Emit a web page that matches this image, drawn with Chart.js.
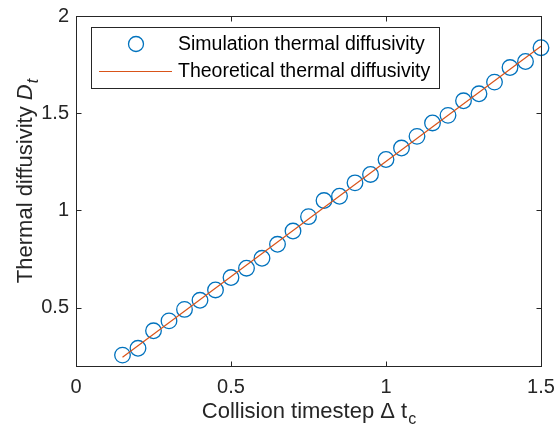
<!DOCTYPE html>
<html>
<head>
<meta charset="utf-8">
<script src="https://cdn.jsdelivr.net/npm/chart.js@4.4.1/dist/chart.umd.min.js"></script>
<style>
  html, body { margin: 0; padding: 0; background: #fff; }
</style>
</head>
<body>
<canvas id="chart" width="555" height="425"></canvas>
<script>
// collision timestep values (x) and simulated diffusivity (circles)
const timesteps = [0.15,0.20,0.25,0.30,0.35,0.40,0.45,0.50,0.55,0.60,0.65,0.70,0.75,0.80,
                   0.85,0.90,0.95,1.00,1.05,1.10,1.15,1.20,1.25,1.30,1.35,1.40,1.45,1.50];
const simDiffusivity = [0.256,0.291,0.381,0.432,0.491,0.538,0.591,0.655,0.703,0.754,0.826,0.894,0.968,1.051,
                        1.073,1.142,1.185,1.262,1.321,1.381,1.450,1.489,1.564,1.600,1.660,1.735,1.766,1.837];
// theoretical line end points
const theoryX = [0.15, 1.50];
const theoryY = [0.245, 1.845];
const xTicks = [0, 0.5, 1, 1.5];
const yTicks = [0.5, 1, 1.5, 2];

const AX = "#262626";
const FONT = "'Liberation Sans', Arial, Helvetica, sans-serif";

const frame = {
  id: "frame",
  afterDraw(chart) {
    const ctx = chart.ctx, a = chart.chartArea;
    const xs = chart.scales.x, ys = chart.scales.y;
    ctx.save();
    ctx.strokeStyle = AX;
    ctx.lineWidth = 1;
    const L = Math.round(a.left) + 0.5, R = Math.round(a.right) + 0.5;
    const T = Math.round(a.top) + 0.5, B = Math.round(a.bottom) + 0.5;
    ctx.strokeRect(L, T, R - L, B - T);
    const tl = 5;
    ctx.beginPath();
    xTicks.forEach(v => {
      const p = Math.round(xs.getPixelForValue(v)) + 0.5;
      ctx.moveTo(p, B); ctx.lineTo(p, B - tl);
      ctx.moveTo(p, T); ctx.lineTo(p, T + tl);
    });
    yTicks.forEach(v => {
      const p = Math.round(ys.getPixelForValue(v)) + 0.5;
      ctx.moveTo(L, p); ctx.lineTo(L + tl, p);
      ctx.moveTo(R, p); ctx.lineTo(R - tl, p);
    });
    ctx.stroke();

    // legend
    const ds = chart.data.datasets;
    ctx.fillStyle = "#fff";
    ctx.fillRect(91.5, 27.5, 348, 61);
    ctx.strokeRect(91.5, 27.5, 348, 61);
    ctx.strokeStyle = ds[0].borderColor;
    ctx.lineWidth = ds[0].borderWidth;
    ctx.beginPath();
    ctx.arc(136, 44, 7.5, 0, Math.PI * 2);
    ctx.stroke();
    ctx.strokeStyle = ds[1].borderColor;
    ctx.lineWidth = ds[1].borderWidth;
    ctx.beginPath();
    ctx.moveTo(99, 71.5); ctx.lineTo(172, 71.5);
    ctx.stroke();
    ctx.fillStyle = "#000";
    ctx.font = "19.5px " + FONT;
    ctx.textBaseline = "middle";
    ctx.textAlign = "left";
    ctx.fillText(ds[0].label, 178, 45);
    ctx.fillText(ds[1].label, 178, 72);

    // axis titles with subscripts
    ctx.fillStyle = AX;
    ctx.textBaseline = "alphabetic";
    const big = "22px " + FONT, bigIt = "italic 22px " + FONT, sub = "16px " + FONT, subIt = "italic 16px " + FONT;

    const xParts = [["Collision timestep \u0394 t", big, 0], ["c", sub, 6]];
    drawParts(ctx, xParts, 309, 418);

    ctx.translate(32, 181);
    ctx.rotate(-Math.PI / 2);
    const yParts = [["Thermal diffusivity ", big, 0], ["D", bigIt, 0], ["t", subIt, 6]];
    drawParts(ctx, yParts, 0, 0);
    ctx.restore();
  }
};

function drawParts(ctx, parts, cx, base) {
  let w = 0;
  parts.forEach(p => { ctx.font = p[1]; w += ctx.measureText(p[0]).width + (p[2] ? 1 : 0); });
  let x = cx - w / 2;
  parts.forEach(p => {
    ctx.font = p[1];
    if (p[2]) x += 1;
    ctx.fillText(p[0], x, base + p[2]);
    x += ctx.measureText(p[0]).width;
  });
}

new Chart(document.getElementById("chart"), {
  type: "scatter",
  data: {
    datasets: [
      {
        label: "Simulation thermal diffusivity",
        data: timesteps.map((t, i) => ({ x: t, y: simDiffusivity[i] })),
        showLine: false,
        pointStyle: "circle",
        pointRadius: 7.8,
        backgroundColor: "rgba(0,0,0,0)",
        borderColor: "#0072BD",
        borderWidth: 1.3,
        clip: false,
        order: 1
      },
      {
        label: "Theoretical thermal diffusivity",
        data: theoryX.map((t, i) => ({ x: t, y: theoryY[i] })),
        showLine: true,
        pointRadius: 0,
        borderColor: "#D95319",
        borderWidth: 1.2,
        order: 0
      }
    ]
  },
  options: {
    responsive: false,
    animation: false,
    devicePixelRatio: 1,
    layout: { padding: { left: 0, top: 16, right: 14, bottom: 0 } },
    plugins: { legend: { display: false }, tooltip: { enabled: false } },
    scales: {
      x: {
        type: "linear", min: 0, max: 1.5,
        afterBuildTicks: s => { s.ticks = xTicks.map(v => ({ value: v })); },
        afterFit: s => { s.height = 59; s.paddingLeft = 0; s.paddingRight = 0; },
        grid: { display: false, drawTicks: false },
        border: { display: false },
        ticks: { color: AX, padding: 9, font: { family: FONT, size: 20 }, maxRotation: 0,
                 callback: v => String(v) }
      },
      y: {
        type: "linear", min: 0.2, max: 2,
        afterBuildTicks: s => { s.ticks = yTicks.map(v => ({ value: v })); },
        afterFit: s => { s.width = 76; s.paddingTop = 0; s.paddingBottom = 0; },
        grid: { display: false, drawTicks: false },
        border: { display: false },
        ticks: { color: AX, padding: 7, font: { family: FONT, size: 20 },
                 callback: v => String(v) }
      }
    }
  },
  plugins: [frame]
});
</script>
</body>
</html>
